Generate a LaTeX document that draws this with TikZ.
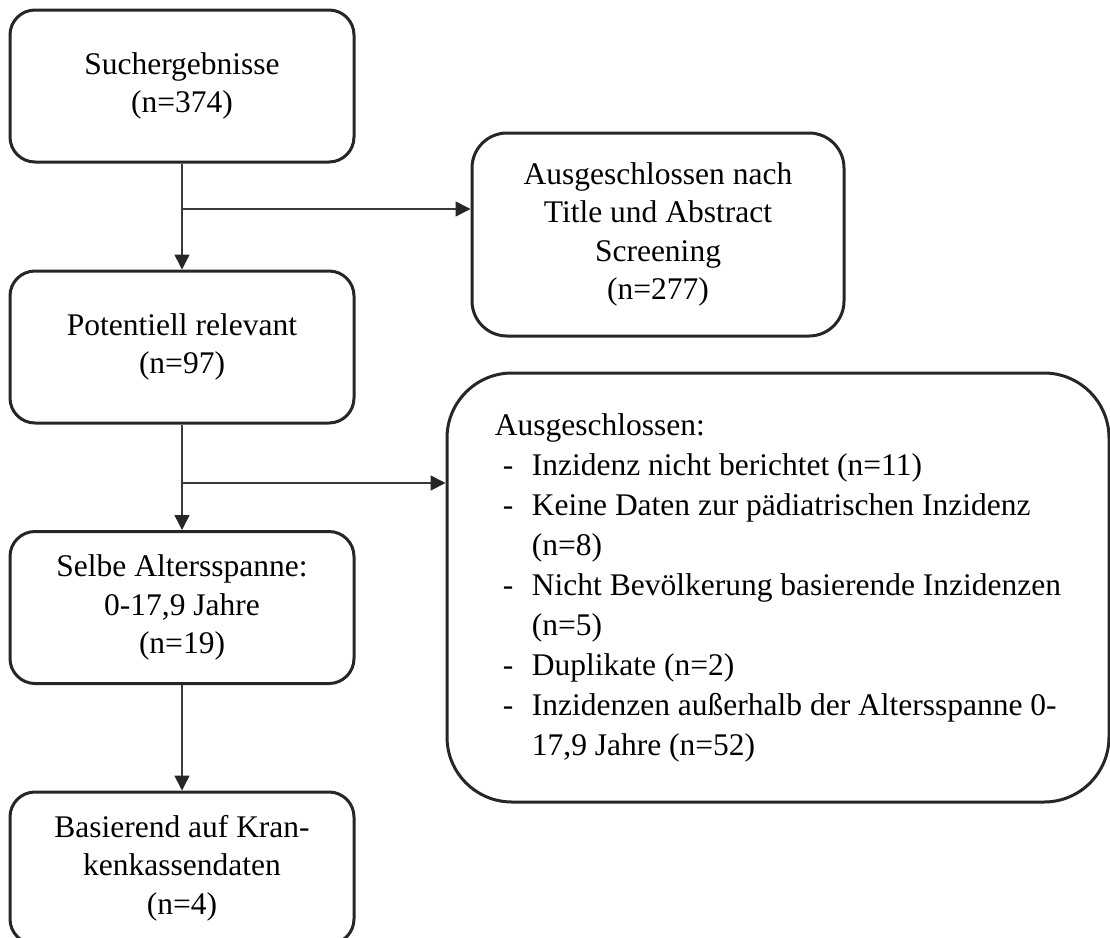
\documentclass[tikz,border=0pt]{standalone}
\usepackage{fontspec}
\setmainfont{Liberation Serif}
\usetikzlibrary{arrows.meta}
\definecolor{boxline}{HTML}{262626}
\definecolor{flowline}{HTML}{3A3A3A}
\newcommand{\exitem}[1]{\hspace*{8pt}\makebox[29pt][l]{-}#1}
\newcommand{\excont}[1]{\hspace*{37pt}#1}
\begin{document}
\begin{tikzpicture}[x=1pt,y=-1pt,
        stage/.style={draw=boxline,line width=3pt,rounded corners=25pt,align=center,inner sep=0pt,
            minimum width=344pt,minimum height=152pt,font=\fontsize{31.5}{38.5}\selectfont},
        flow/.style={draw=flowline,line width=1.6pt,-{Triangle[length=15pt,width=15pt,color=boxline]}}]
        \useasboundingbox (0,0) rectangle (1110,937);
        \node[stage] (search) at (182,86) {Suchergebnisse\\(n=374)};
        \node[stage,rounded corners=35pt,minimum width=372pt,minimum height=203pt] (screen) at (658,234.5) {Ausgeschlossen nach\\Title und Abstract\\Screening\\(n=277)};
        \node[stage] (relevant) at (182,347) {Potentiell relevant\\(n=97)};
        \node[stage,rounded corners=65pt,minimum width=662pt,minimum height=429pt,align=left,
            font=\fontsize{31.5}{40}\selectfont] (reasons) at (778,587.5) {Ausgeschlossen:\\
            \exitem{Inzidenz nicht berichtet (n=11)}\\
            \exitem{Keine Daten zur pädiatrischen Inzidenz}\\
            \excont{(n=8)}\\
            \exitem{Nicht Bevölkerung basierende Inzidenzen}\\
            \excont{(n=5)}\\
            \exitem{Duplikate (n=2)}\\
            \exitem{Inzidenzen außerhalb der Altersspanne 0-}\\
            \excont{17,9 Jahre (n=52)}};
        \node[stage] (agerange) at (182,607.5) {Selbe Altersspanne:\\0-17,9 Jahre\\(n=19)};
        \node[stage] (insurance) at (182,868) {Basierend auf Kran-\\kenkassendaten\\(n=4)};
        \coordinate (split1) at (182,209);
        \coordinate (split2) at (182,483);
        \draw[flow] (search.south) -- (relevant.north);
        \draw[flow] (split1) -- (split1 -| screen.west);
        \draw[flow] (relevant.south) -- (agerange.north);
        \draw[flow] (split2) -- (split2 -| reasons.west);
        \draw[flow] (agerange.south) -- (insurance.north);
    \end{tikzpicture}
\end{document}
